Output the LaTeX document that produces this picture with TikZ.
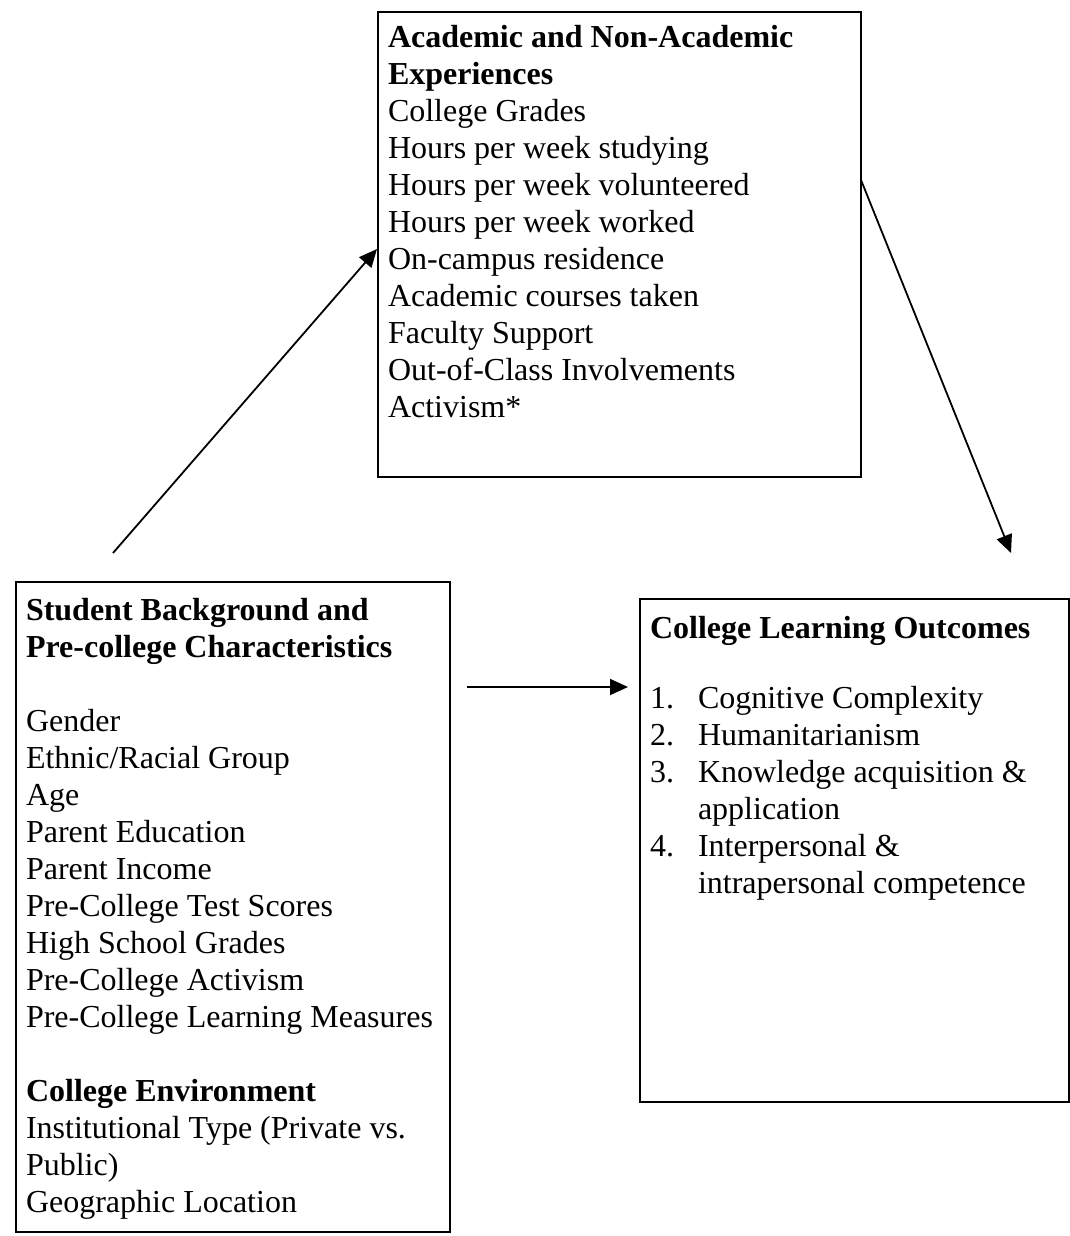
\documentclass[tikz,border=0pt]{standalone}
\usepackage{fontspec}
\setmainfont{Liberation Serif}
\usetikzlibrary{arrows.meta}
\begin{document}
\begin{tikzpicture}[x=1pt,y=-1pt,
  box/.style={draw, line width=2pt, rectangle, inner sep=0pt, outer sep=0pt, anchor=north west},
  txt/.style={anchor=base west, inner sep=0pt, outer sep=0pt},
  conn/.style={line width=1.8pt, -{Triangle[length=18pt,width=16pt]}}]
\useasboundingbox (0,0) rectangle (1070,1236);
\newcommand{\bodyfont}{\fontsize{32}{37}\selectfont}
% boxes
\node[box, minimum width=483pt, minimum height=465pt] (top) at (378,12) {};
\node[box, minimum width=434pt, minimum height=650pt] (left) at (16,582) {};
\node[box, minimum width=429pt, minimum height=503pt] (right) at (640,599) {};
% texts
\node[txt] (toptext) at (388,48) {\parbox[t]{470pt}{\bodyfont\raggedright
  \textbf{Academic and Non-Academic}\\
  \textbf{Experiences}\\
  College Grades\\
  Hours per week studying\\
  Hours per week volunteered\\
  Hours per week worked\\
  On-campus residence\\
  Academic courses taken\\
  Faculty Support\\
  Out-of-Class Involvements\\
  Activism*}};
\node[txt] (lefttext) at (26,620) {\parbox[t]{420pt}{\bodyfont\raggedright
  \textbf{Student Background and}\\
  \textbf{Pre-college Characteristics}\\[37pt]
  Gender\\
  Ethnic/Racial Group\\
  Age\\
  Parent Education\\
  Parent Income\\
  Pre-College Test Scores\\
  High School Grades\\
  Pre-College Activism\\
  Pre-College Learning Measures\\[37pt]
  \textbf{College Environment}\\
  Institutional Type (Private vs.\\
  Public)\\
  Geographic Location}};
\node[txt] (righttitle) at (650,638) {\bodyfont\textbf{College Learning Outcomes}};
\node[txt] (rightlist) at (650,708) {\parbox[t]{415pt}{\bodyfont\raggedright
  \makebox[48pt][l]{1.}Cognitive Complexity\\
  \makebox[48pt][l]{2.}Humanitarianism\\
  \makebox[48pt][l]{3.}Knowledge acquisition \&\\
  \hspace*{48pt}application\\
  \makebox[48pt][l]{4.}Interpersonal \&\\
  \hspace*{48pt}intrapersonal competence}};
% connector ends
\coordinate (a1s) at (113,553);
\coordinate (a1e) at (377,249);
\coordinate (a2s) at (861,180);
\coordinate (a2e) at (1011,553);
\coordinate (a3s) at (467,687);
\coordinate (a3e) at (628,687);
\draw[conn] (a1s) -- (a1e);
\draw[conn] (a2s) -- (a2e);
\draw[conn] (a3s) -- (a3e);
\end{tikzpicture}
\end{document}
